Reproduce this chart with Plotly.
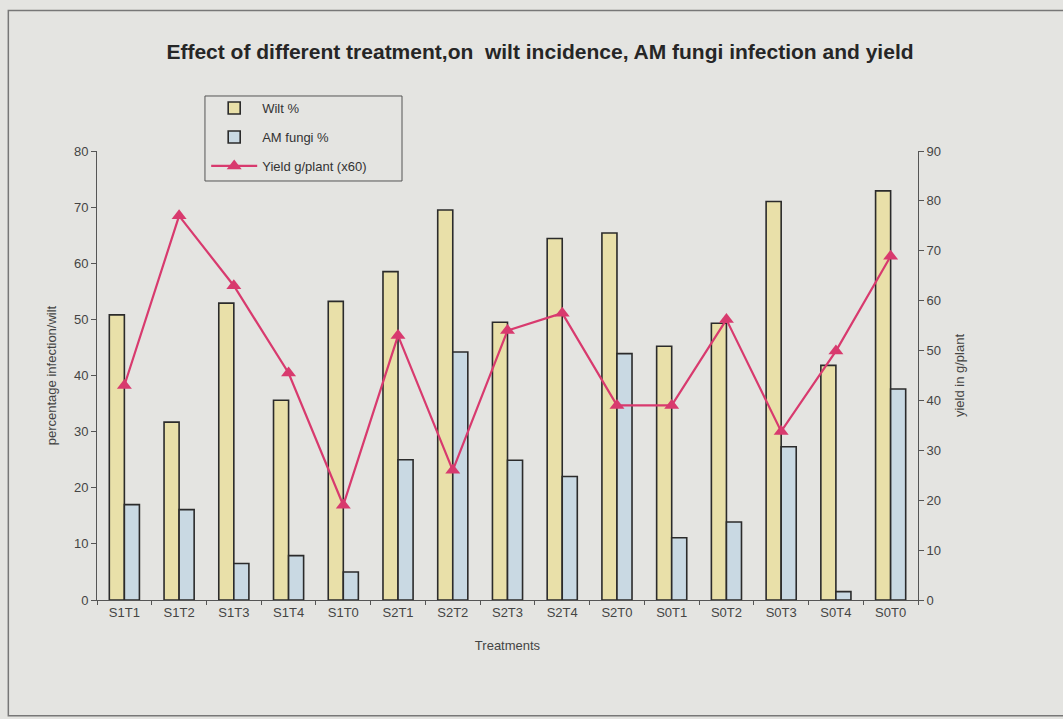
import plotly.graph_objects as go

# Treatment labels and measured values
treatments = ["S1T1", "S1T2", "S1T3", "S1T4", "S1T0",
              "S2T1", "S2T2", "S2T3", "S2T4", "S2T0",
              "S0T1", "S0T2", "S0T3", "S0T4", "S0T0"]
wilt_pct = [50.8, 31.7, 52.9, 35.6, 53.2, 58.5, 69.5, 49.5, 64.4, 65.4,
            45.2, 49.3, 71.0, 41.8, 72.9]
am_fungi_pct = [17.0, 16.1, 6.5, 7.9, 5.0, 25.0, 44.2, 24.9, 22.0, 43.9,
                11.1, 13.9, 27.3, 1.5, 37.6]
yield_g_plant = [43.0, 77.0, 63.0, 45.5, 19.0, 53.0, 26.0, 54.0, 57.5, 39.0,
                 39.0, 56.2, 33.8, 49.9, 68.9]

font_main = "Liberation Sans, Arial, sans-serif"
bg = "#e4e4e1"
edge = "#2b2b2b"
axis_col = "#555"
text_col = "#444"

fig = go.Figure()
fig.add_trace(go.Bar(
    x=treatments, y=wilt_pct, name="Wilt %", legend="legend", showlegend=True,
    marker=dict(color="#e9e0a9", line=dict(color=edge, width=1.6)),
))
fig.add_trace(go.Bar(
    x=treatments, y=am_fungi_pct, name="AM fungi %", legend="legend2", showlegend=True,
    marker=dict(color="#c9d9e3", line=dict(color=edge, width=1.6)),
))
fig.add_trace(go.Scatter(
    x=treatments, y=yield_g_plant, name="Yield g/plant (x60)", legend="legend3",
    showlegend=True, yaxis="y2", mode="lines+markers",
    line=dict(color="#d83a6e", width=2.2),
    marker=dict(symbol="triangle-up", size=13, color="#d83a6e"),
))

legend_style = dict(
    x=0.133, xanchor="left", yanchor="middle",
    bgcolor="rgba(0,0,0,0)", borderwidth=0,
    font=dict(size=13, color="#333"), itemwidth=46, visible=True,
)

fig.update_layout(
    width=1063, height=719,
    showlegend=True,
    paper_bgcolor=bg, plot_bgcolor=bg,
    margin=dict(l=97, r=145, t=151, b=119),
    barmode="group", bargap=0.45, bargroupgap=0,
    font=dict(family=font_main, size=13, color="#333"),
    title=dict(
        text="<b>Effect of different treatment,on  wilt incidence, AM fungi infection and yield</b>",
        x=0.508, xanchor="center", y=0.928, yanchor="middle", yref="container",
        font=dict(family=font_main, size=21, color="#262626"),
    ),
    xaxis=dict(
        range=[-0.5, 14.5],
        title=dict(text="Treatments", font=dict(size=13, color=text_col), standoff=22),
        showline=True, linecolor=axis_col, linewidth=1,
        ticks="outside", ticklen=4, tickcolor=axis_col, tickson="boundaries",
        tickfont=dict(size=13, color=text_col), showgrid=False,
    ),
    yaxis=dict(
        title=dict(text="percentage infection/wilt", font=dict(size=13, color=text_col), standoff=14),
        range=[0, 80], dtick=10, showgrid=False, zeroline=False,
        showline=True, linecolor=axis_col, linewidth=1,
        ticks="outside", ticklen=5, tickcolor=axis_col,
        tickfont=dict(size=13, color=text_col),
    ),
    yaxis2=dict(
        title=dict(text="yield in g/plant", font=dict(size=13, color=text_col), standoff=14),
        range=[0, 90], dtick=10, overlaying="y", side="right",
        showgrid=False, zeroline=False,
        showline=True, linecolor=axis_col, linewidth=1,
        ticks="outside", ticklen=5, tickcolor=axis_col,
        tickfont=dict(size=13, color=text_col),
    ),
    legend=dict(y=1.0958, **legend_style),
    legend2=dict(y=1.0312, **legend_style),
    legend3=dict(y=0.9666, **legend_style),
    shapes=[
        # outer frame
        dict(type="rect", xref="paper", yref="paper",
             x0=-0.108, x1=1.25, y0=-0.258, y1=1.313,
             line=dict(color="#777", width=1.5), fillcolor="rgba(0,0,0,0)", layer="below"),
        # legend box
        dict(type="rect", xref="paper", yref="paper",
             x0=0.1315, x1=0.3715, y0=0.9332, y1=1.1225,
             line=dict(color="#555", width=1), fillcolor="rgba(0,0,0,0)", layer="below"),
    ],
)

fig.write_html("out.html")
